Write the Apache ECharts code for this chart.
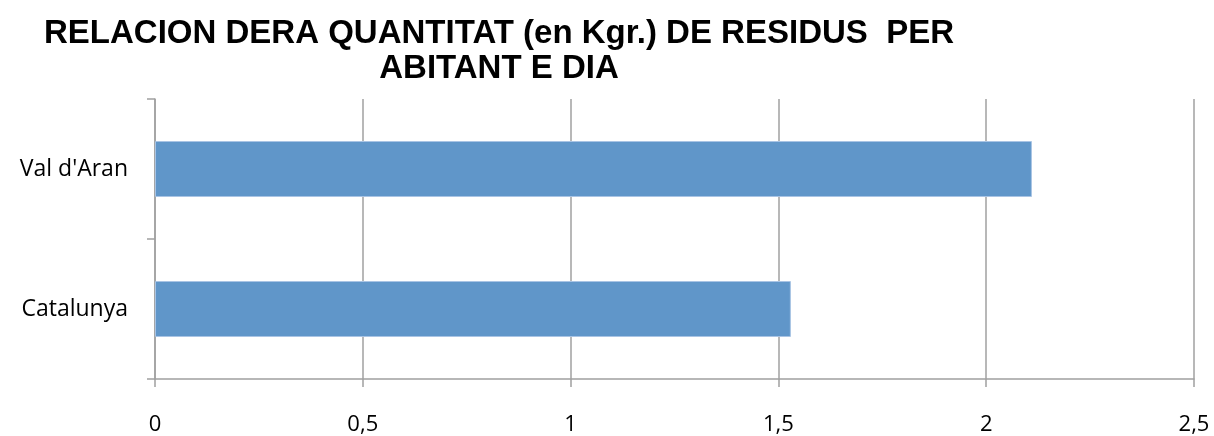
<!DOCTYPE html>
<html><head><meta charset="utf-8">
<script src="https://cdn.jsdelivr.net/npm/echarts@6/dist/echarts.min.js"></script>
<style>html,body{margin:0;padding:0;background:#fff}#c{width:1214px;height:436px}</style>
</head><body><div id="c"></div>
<script>
const titleLines = ['RELACION DERA QUANTITAT (en Kgr.) DE RESIDUS  PER', 'ABITANT E DIA'];
const categories = ['Catalunya', "Val d'Aran"];
const values = [1.53, 2.11];
const xTickLabels = ['0', '0,5', '1', '1,5', '2', '2,5'];

const chart = echarts.init(document.getElementById('c'), null, {renderer: 'canvas'});
chart.setOption({
  animation: false,
  title: {
    text: titleLines.join('\n'),
    left: 494, top: 11, textAlign: 'center',
    textStyle: {fontFamily: 'Liberation Sans, Arial', fontWeight: 'bold', fontSize: 33, lineHeight: 35, color: '#000'}
  },
  grid: {left: 155, right: 20, top: 99, bottom: 56, containLabel: false},
  xAxis: {
    type: 'value', min: 0, max: 2.5, interval: 0.5,
    axisLine: {show: true, lineStyle: {color: '#a0a0a0', width: 1.5}},
    axisTick: {show: true, length: 8, lineStyle: {color: '#a0a0a0', width: 1.5}},
    splitLine: {show: true, lineStyle: {color: '#a0a0a0', width: 1.5}},
    axisLabel: {
      margin: 35, color: '#000', fontFamily: 'Open Sans, Noto Sans', fontSize: 22,
      formatter: v => xTickLabels[Math.round(v / 0.5)]
    }
  },
  yAxis: {
    type: 'category', data: categories,
    axisLine: {show: true, lineStyle: {color: '#a0a0a0', width: 1.5}},
    axisTick: {show: true, length: 8, lineStyle: {color: '#a0a0a0', width: 1.5}},
    axisLabel: {margin: 27, color: '#000', fontFamily: 'Open Sans, Noto Sans', fontSize: 23}
  },
  series: [{
    type: 'bar', data: values, barCategoryGap: '60%',
    itemStyle: {color: '#6096c9', borderColor: '#a9c4e4', borderWidth: 1}
  }]
});
</script></body></html>
